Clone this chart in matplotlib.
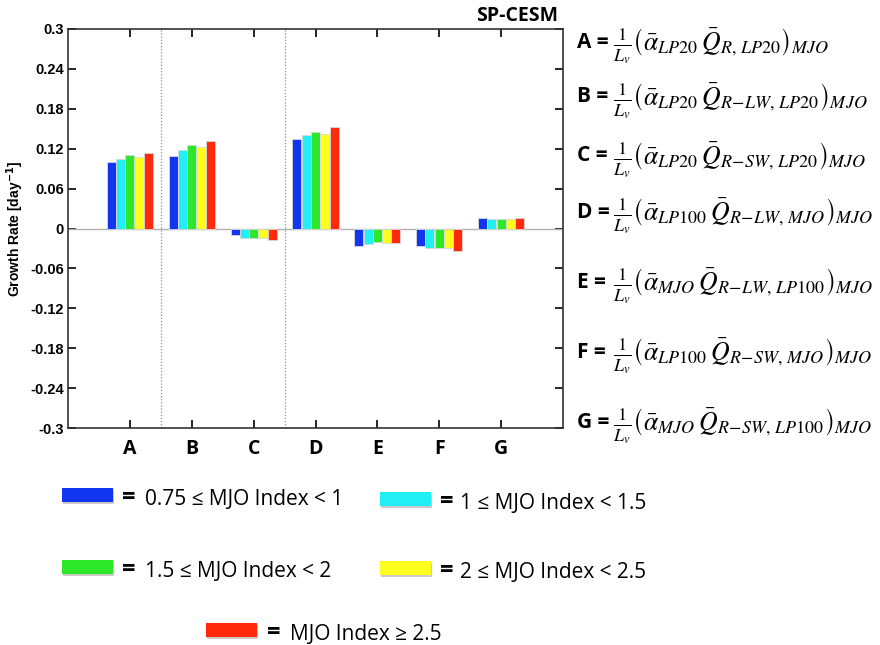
import matplotlib
matplotlib.use("Agg")
import matplotlib.pyplot as plt
import numpy as np
from matplotlib.patches import Rectangle

plt.rcParams['mathtext.fontset'] = 'stix'

# Terms of the growth-rate decomposition
categories = ['A', 'B', 'C', 'D', 'E', 'F', 'G']

# Growth rate [day^-1] for each MJO-index bin
bin_075_1 = [0.100, 0.109, -0.010, 0.134, -0.026, -0.027, 0.016]
bin_1_15 = [0.105, 0.118, -0.014, 0.140, -0.024, -0.029, 0.015]
bin_15_2 = [0.110, 0.125, -0.015, 0.145, -0.021, -0.030, 0.014]
bin_2_25 = [0.107, 0.122, -0.014, 0.142, -0.022, -0.030, 0.015]
bin_ge_25 = [0.114, 0.131, -0.018, 0.153, -0.022, -0.034, 0.016]
series = [bin_075_1, bin_1_15, bin_15_2, bin_2_25, bin_ge_25]

colors = ['#1236F0', '#22EEF6', '#2EE62A', '#FFFF1E', '#FF2A0C']
bin_labels = ['0.75 \u2264 MJO Index < 1', '1 \u2264 MJO Index < 1.5',
              '1.5 \u2264 MJO Index < 2', '2 \u2264 MJO Index < 2.5',
              'MJO Index \u2265 2.5']

yticks = [-0.3, -0.24, -0.18, -0.12, -0.06, 0, 0.06, 0.12, 0.18, 0.24, 0.3]
ytick_labels = ['-0.3', '-0.24', '-0.18', '-0.12', '-0.06', '0',
                '0.06', '0.12', '0.18', '0.24', '0.3']

formulas = [
    r'$\frac{1}{L_v}\left(\bar{\alpha}_{LP20}\,\bar{Q}_{R,\,LP20}\right)_{MJO}$',
    r'$\frac{1}{L_v}\left(\bar{\alpha}_{LP20}\,\bar{Q}_{R\!-\!LW,\,LP20}\right)_{MJO}$',
    r'$\frac{1}{L_v}\left(\bar{\alpha}_{LP20}\,\bar{Q}_{R\!-\!SW,\,LP20}\right)_{MJO}$',
    r'$\frac{1}{L_v}\left(\bar{\alpha}_{LP100}\,\bar{Q}_{R\!-\!LW,\,MJO}\right)_{MJO}$',
    r'$\frac{1}{L_v}\left(\bar{\alpha}_{MJO}\,\bar{Q}_{R\!-\!LW,\,LP100}\right)_{MJO}$',
    r'$\frac{1}{L_v}\left(\bar{\alpha}_{LP100}\,\bar{Q}_{R\!-\!SW,\,MJO}\right)_{MJO}$',
    r'$\frac{1}{L_v}\left(\bar{\alpha}_{MJO}\,\bar{Q}_{R\!-\!SW,\,LP100}\right)_{MJO}$',
]

W, H = 880, 645
fig = plt.figure(figsize=(W / 100, H / 100), dpi=100)


def fx(px):
    return px / W


def fy(py):
    return 1 - py / H


ax = fig.add_axes([fx(68), fy(428), fx(563) - fx(68), fy(29) - fy(428)])

x = np.arange(1, len(categories) + 1)
bw = 0.145
step = 0.15
for i, (vals, c) in enumerate(zip(series, colors)):
    ax.bar(x + (i - 2) * step, vals, width=bw, color=c,
           edgecolor='#d8d8d8', linewidth=0.6, zorder=3)

ax.axhline(0, color='#b0b0b0', linewidth=1.0, zorder=2)
for xv in (1.5, 3.5):
    ax.axvline(xv, color='#8a8a9a', linestyle=(0, (1, 1.5)), linewidth=0.9, zorder=1)

ax.set_xlim(0, 8)
ax.set_ylim(-0.3, 0.3)
ax.set_xticks(x)
ax.set_xticklabels(categories, fontfamily='Open Sans', fontweight='bold', fontsize=14)
ax.set_yticks(yticks)
ax.set_yticklabels(ytick_labels, fontfamily='Liberation Sans', fontweight='bold', fontsize=10.5)
ax.tick_params(axis='both', direction='in', length=6, width=1.2,
               top=True, right=True, labelright=False, labeltop=False)
ax.tick_params(axis='x', pad=8)
ax.tick_params(axis='y', pad=3)
for s in ax.spines.values():
    s.set_linewidth(1.2)
    s.set_color('#333333')

ax.set_ylabel(r'Growth Rate [day$^{\mathbf{-1}}$]', fontfamily='Liberation Sans',
              fontweight='bold', fontsize=10, math_fontfamily='dejavusans', labelpad=3)

fig.text(fx(558), fy(16), 'SP-CESM', ha='right', va='center',
         fontfamily='Open Sans', fontweight='bold', fontsize=14)

# Definitions of the decomposition terms
eq_y = [42, 97, 156, 212, 282, 352, 422]
for lab, f, yy in zip(categories, formulas, eq_y):
    fig.text(fx(577), fy(yy), lab + ' =', ha='left', va='center',
             fontfamily='Open Sans', fontweight='bold', fontsize=15)
    fig.text(fx(613), fy(yy + 4), f, ha='left', va='center', fontsize=18.5)

# Colour key: (rect left, rect top, "=" left, text left) in pixels
key_pos = [(62, 488, 122, 145), (380, 492, 440, 460), (62, 560, 122, 145),
           (380, 561, 440, 460), (206, 623, 267, 290)]
for (kx, ky, ex, tx), c, lab in zip(key_pos, colors, bin_labels):
    fig.add_artist(Rectangle((fx(kx + 1), fy(ky + 16)), fx(51), fy(0) - fy(14),
                             transform=fig.transFigure, facecolor='#a0a0a0',
                             edgecolor='none', alpha=0.55))
    fig.add_artist(Rectangle((fx(kx), fy(ky + 14)), fx(51), fy(0) - fy(14),
                             transform=fig.transFigure, facecolor=c, edgecolor='none'))
    fig.text(fx(ex), fy(ky + 16), '=', ha='left', va='baseline',
             fontfamily='Open Sans', fontweight='bold', fontsize=17)
    fig.text(fx(tx), fy(ky + 17), lab, ha='left', va='baseline',
             fontfamily='Open Sans', fontsize=15)

fig.savefig('out.png', dpi=100)
